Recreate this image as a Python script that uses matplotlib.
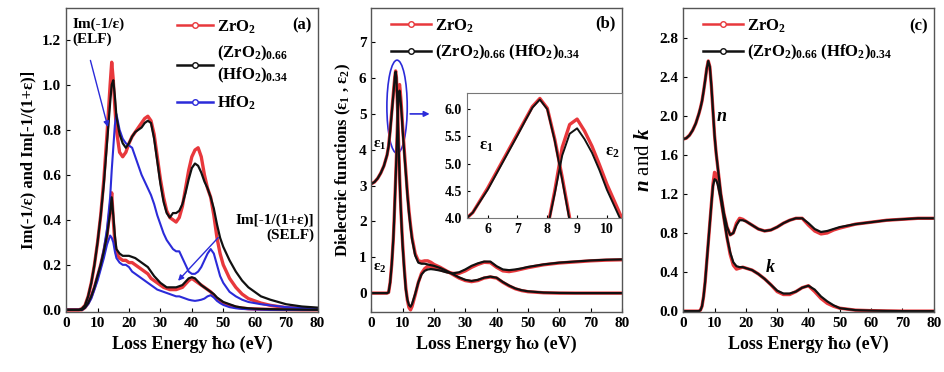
import numpy as np
import matplotlib.pyplot as plt
from matplotlib.patches import Ellipse

plt.rcParams["font.family"] = ["Liberation Serif", "DejaVu Serif"]
plt.rcParams["font.weight"] = "bold"
plt.rcParams["mathtext.fontset"] = "custom"
plt.rcParams["mathtext.rm"] = "Liberation Serif:bold"
plt.rcParams["mathtext.it"] = "Liberation Serif:italic:bold"
plt.rcParams["mathtext.bf"] = "Liberation Serif:bold"

RED = "#e8383c"
BLACK = "#111111"
BLUE = "#2b2bd9"

# ---- panel (a): energy loss functions ----
e_a = [0, 2, 4, 5, 6, 7, 8, 9, 10, 11, 12, 13, 14, 14.5, 15, 15.5, 16, 17, 18, 19,
       20, 21, 22, 23, 24, 25, 26, 27, 28, 29, 30, 31, 32, 33, 34, 35, 36, 37, 38, 39,
       40, 41, 42, 43, 44, 45, 46, 47, 48, 49, 50, 52, 54, 56, 58, 60, 62, 65, 70, 75, 80]
elf_zro2 = [0, 0, 0, 0.005, 0.02, 0.06, 0.12, 0.2, 0.3, 0.42, 0.58, 0.78, 1.0, 1.1, 1.02, 0.9, 0.8, 0.7, 0.68, 0.7,
            0.74, 0.77, 0.79, 0.81, 0.83, 0.85, 0.86, 0.84, 0.78, 0.68, 0.58, 0.5, 0.44, 0.41, 0.4, 0.39, 0.41, 0.46, 0.54, 0.62,
            0.68, 0.71, 0.72, 0.68, 0.6, 0.54, 0.5, 0.42, 0.32, 0.25, 0.2, 0.14, 0.1, 0.07, 0.05, 0.04, 0.03, 0.02, 0.01, 0.007, 0.005]
elf_mix = [0, 0, 0, 0.005, 0.02, 0.06, 0.12, 0.2, 0.3, 0.42, 0.56, 0.74, 0.92, 1.0, 1.02, 0.95, 0.86, 0.78, 0.74, 0.72,
           0.74, 0.77, 0.79, 0.8, 0.81, 0.83, 0.84, 0.83, 0.76, 0.66, 0.56, 0.48, 0.43, 0.41, 0.43, 0.43, 0.44, 0.47, 0.52, 0.58,
           0.63, 0.65, 0.64, 0.61, 0.57, 0.54, 0.5, 0.45, 0.38, 0.32, 0.28, 0.22, 0.17, 0.13, 0.1, 0.08, 0.06, 0.045, 0.025, 0.015, 0.01]
elf_hfo2 = [0, 0, 0, 0, 0.01, 0.03, 0.06, 0.1, 0.15, 0.2, 0.27, 0.36, 0.5, 0.62, 0.72, 0.82, 0.87, 0.8, 0.76, 0.74,
            0.73, 0.72, 0.68, 0.64, 0.6, 0.57, 0.54, 0.51, 0.47, 0.42, 0.38, 0.34, 0.31, 0.29, 0.27, 0.26, 0.26, 0.23, 0.2, 0.17,
            0.16, 0.16, 0.17, 0.19, 0.22, 0.25, 0.27, 0.25, 0.2, 0.15, 0.12, 0.08, 0.06, 0.045, 0.035, 0.03, 0.025, 0.02, 0.012, 0.008, 0.005]
self_zro2 = [0, 0, 0, 0, 0.01, 0.03, 0.06, 0.1, 0.15, 0.2, 0.26, 0.33, 0.45, 0.52, 0.4, 0.3, 0.25, 0.23, 0.22, 0.22,
             0.21, 0.21, 0.2, 0.19, 0.18, 0.17, 0.16, 0.14, 0.13, 0.12, 0.11, 0.1, 0.095, 0.09, 0.09, 0.09, 0.095, 0.1, 0.115, 0.13,
             0.14, 0.13, 0.12, 0.11, 0.1, 0.09, 0.08, 0.065, 0.05, 0.04, 0.03, 0.02, 0.012, 0.008, 0.005, 0.004, 0.003, 0.002, 0.001, 0, 0]
self_mix = [0, 0, 0, 0, 0.01, 0.03, 0.06, 0.1, 0.15, 0.2, 0.26, 0.33, 0.43, 0.5, 0.42, 0.33, 0.27, 0.25, 0.24, 0.24,
            0.24, 0.235, 0.23, 0.22, 0.21, 0.2, 0.19, 0.17, 0.15, 0.135, 0.12, 0.11, 0.1, 0.1, 0.1, 0.1, 0.105, 0.11, 0.125, 0.14,
            0.145, 0.14, 0.125, 0.11, 0.1, 0.09, 0.08, 0.07, 0.055, 0.045, 0.035, 0.025, 0.015, 0.01, 0.007, 0.005, 0.004, 0.003, 0.002, 0.001, 0]
self_hfo2 = [0, 0, 0, 0, 0.01, 0.025, 0.05, 0.09, 0.13, 0.18, 0.23, 0.29, 0.33, 0.32, 0.3, 0.26, 0.23, 0.21, 0.2, 0.2,
             0.19, 0.17, 0.16, 0.15, 0.14, 0.13, 0.12, 0.11, 0.1, 0.09, 0.085, 0.08, 0.075, 0.07, 0.065, 0.06, 0.06, 0.055, 0.05, 0.045,
             0.042, 0.04, 0.042, 0.045, 0.05, 0.06, 0.065, 0.055, 0.04, 0.03, 0.022, 0.012, 0.007, 0.004, 0.003, 0.002, 0.001, 0, 0, 0, 0]

# ---- panel (b): dielectric functions ----
e_b = [0, 1, 2, 3, 4, 5, 5.5, 6, 6.5, 7, 7.25, 7.5, 7.75, 8, 8.25, 8.5, 8.75, 9, 9.25, 9.5, 9.75, 10,
       10.5, 11, 11.5, 12, 12.5, 13, 14, 15, 16, 17, 18, 19, 20, 22, 24, 26, 28, 30, 32, 34, 36, 38,
       40, 42, 44, 46, 48, 50, 55, 60, 65, 70, 75, 80]
eps1_zro2 = [3.05, 3.1, 3.2, 3.35, 3.55, 3.85, 4.1, 4.55, 5.05, 5.55, 5.8, 6.05, 6.2, 6.02, 5.45, 4.75, 4.0, 3.3, 2.7, 2.2, 1.75, 1.35,
             0.7, 0.15, -0.2, -0.4, -0.47, -0.37, -0.05, 0.3, 0.55, 0.68, 0.75, 0.74, 0.7, 0.65, 0.6, 0.55, 0.55, 0.62, 0.72, 0.8, 0.86, 0.85,
             0.72, 0.62, 0.6, 0.63, 0.67, 0.71, 0.79, 0.84, 0.87, 0.9, 0.92, 0.93]
eps1_mix = [3.05, 3.1, 3.2, 3.35, 3.55, 3.85, 4.1, 4.52, 5.02, 5.52, 5.78, 6.03, 6.18, 6.0, 5.42, 4.7, 3.95, 3.25, 2.65, 2.15, 1.7, 1.3,
            0.65, 0.1, -0.18, -0.33, -0.38, -0.3, -0.02, 0.3, 0.52, 0.62, 0.66, 0.67, 0.66, 0.63, 0.58, 0.55, 0.58, 0.66, 0.76, 0.83, 0.88, 0.88,
            0.75, 0.66, 0.64, 0.66, 0.69, 0.73, 0.8, 0.85, 0.88, 0.91, 0.93, 0.94]
eps2_zro2 = [0, 0, 0, 0, 0, 0, 0.02, 0.3, 0.8, 1.5, 2.0, 2.6, 3.2, 3.8, 4.5, 5.3, 5.72, 5.82, 5.6, 5.32, 4.98, 4.62,
             4.0, 3.4, 2.8, 2.3, 1.9, 1.55, 1.1, 0.9, 0.88, 0.9, 0.9, 0.86, 0.8, 0.72, 0.62, 0.52, 0.42, 0.35, 0.32, 0.35, 0.42, 0.45,
             0.42, 0.3, 0.2, 0.12, 0.07, 0.04, 0.01, 0, 0, 0, 0, 0]
eps2_mix = [0, 0, 0, 0, 0, 0, 0.02, 0.3, 0.8, 1.5, 2.0, 2.6, 3.2, 3.8, 4.45, 5.15, 5.55, 5.65, 5.45, 5.2, 4.88, 4.52,
            3.92, 3.35, 2.75, 2.25, 1.85, 1.5, 1.05, 0.85, 0.82, 0.82, 0.8, 0.78, 0.76, 0.7, 0.62, 0.53, 0.44, 0.37, 0.34, 0.37, 0.43, 0.46,
            0.43, 0.31, 0.21, 0.13, 0.08, 0.05, 0.015, 0.005, 0, 0, 0, 0]

# ---- panel (c): refractive index n and extinction k ----
e_c = [0, 1, 2, 3, 4, 5, 5.5, 6, 6.5, 7, 7.5, 8, 8.5, 9, 9.5, 10, 10.5, 11, 12, 13, 14, 15, 16, 17, 18, 19,
       20, 22, 24, 26, 28, 30, 32, 34, 36, 38, 40, 42, 44, 46, 48, 50, 55, 60, 65, 70, 75, 80]
n_zro2 = [1.76, 1.77, 1.8, 1.85, 1.92, 2.02, 2.08, 2.15, 2.25, 2.36, 2.48, 2.56, 2.5, 2.3, 2.05, 1.8, 1.62, 1.48, 1.2, 1.0, 0.86, 0.78, 0.8, 0.9, 0.95, 0.94,
          0.92, 0.88, 0.84, 0.82, 0.83, 0.86, 0.9, 0.93, 0.95, 0.95, 0.88, 0.82, 0.79, 0.8, 0.83, 0.85, 0.89, 0.91, 0.93, 0.94, 0.95, 0.95]
n_mix = [1.76, 1.77, 1.8, 1.85, 1.92, 2.02, 2.08, 2.15, 2.25, 2.36, 2.48, 2.56, 2.5, 2.3, 2.05, 1.8, 1.62, 1.48, 1.2, 1.0, 0.86, 0.78, 0.8, 0.88, 0.93, 0.93,
         0.92, 0.88, 0.84, 0.82, 0.83, 0.86, 0.9, 0.93, 0.95, 0.95, 0.9, 0.84, 0.81, 0.82, 0.84, 0.86, 0.89, 0.91, 0.93, 0.94, 0.95, 0.95]
k_zro2 = [0, 0, 0, 0, 0, 0, 0.01, 0.05, 0.15, 0.3, 0.5, 0.7, 0.9, 1.1, 1.3, 1.42, 1.4, 1.33, 1.15, 0.95, 0.75, 0.58, 0.47, 0.43, 0.44, 0.45,
          0.44, 0.42, 0.38, 0.33, 0.27, 0.2, 0.17, 0.17, 0.2, 0.24, 0.26, 0.2, 0.13, 0.08, 0.05, 0.03, 0.01, 0.005, 0.002, 0, 0, 0]
k_mix = [0, 0, 0, 0, 0, 0, 0.01, 0.05, 0.15, 0.3, 0.5, 0.7, 0.9, 1.1, 1.28, 1.35, 1.34, 1.3, 1.15, 0.95, 0.75, 0.6, 0.5, 0.46, 0.45, 0.45,
         0.44, 0.42, 0.38, 0.33, 0.27, 0.21, 0.18, 0.18, 0.2, 0.24, 0.26, 0.22, 0.15, 0.1, 0.06, 0.03, 0.01, 0.005, 0.002, 0, 0, 0]

ZRO2 = "ZrO$_2$"
MIX2 = "(ZrO$_2$)$_{0.66}$\n(HfO$_2$)$_{0.34}$"
MIX1 = "(ZrO$_2$)$_{0.66}$ (HfO$_2$)$_{0.34}$"


def style_axis(ax):
    ax.set_xlim(0, 80)
    ax.set_xticks(range(0, 81, 10))
    ax.tick_params(direction="in", labelsize=11, length=3)
    for s in ax.spines.values():
        s.set_color("#555555")
        s.set_linewidth(1.0)
    ax.set_xlabel("Loss Energy ħω (eV)", fontsize=13, fontweight="bold")


def handle(color):
    return plt.Line2D([], [], color=color, lw=1.8, marker="o", ms=4, mfc="white", mec=color)


fig = plt.figure(figsize=(9.45, 3.72), dpi=100)
ax_a = fig.add_axes([0.070, 0.161, 0.266, 0.817])
ax_b = fig.add_axes([0.393, 0.161, 0.265, 0.817])
ax_c = fig.add_axes([0.723, 0.161, 0.265, 0.817])

# (a)
ax_a.plot(e_a, elf_zro2, color=RED, lw=2.4)
ax_a.plot(e_a, self_zro2, color=RED, lw=2.4)
ax_a.plot(e_a, elf_hfo2, color=BLUE, lw=1.5)
ax_a.plot(e_a, self_hfo2, color=BLUE, lw=1.5)
ax_a.plot(e_a, elf_mix, color=BLACK, lw=1.6)
ax_a.plot(e_a, self_mix, color=BLACK, lw=1.6)
style_axis(ax_a)
ax_a.set_ylim(-0.01, 1.34)
ax_a.set_yticks(np.arange(0, 1.21, 0.2))
ax_a.set_yticklabels([f"{v:.1f}" for v in np.arange(0, 1.21, 0.2)])
ax_a.set_ylabel("Im(-1/ε) and Im[-1/(1+ε)]", fontsize=12, fontweight="bold")
ax_a.text(2, 1.3, "Im(-1/ε)\n(ELF)", fontsize=11, fontweight="bold", va="top")
ax_a.annotate("", xy=(13.5, 0.8), xytext=(7.5, 1.12),
              arrowprops=dict(arrowstyle="-|>", color=BLUE, lw=1.0, mutation_scale=8))
ax_a.text(79, 0.43, "Im[-1/(1+ε)]\n(SELF)", fontsize=11, fontweight="bold", va="top", ha="right",
          multialignment="right")
ax_a.annotate("", xy=(35, 0.12), xytext=(49, 0.33),
              arrowprops=dict(arrowstyle="-|>", color=BLUE, lw=1.0, mutation_scale=8))
ax_a.text(78, 1.3, "(a)", fontsize=12, fontweight="bold", va="top", ha="right")
ax_a.legend([handle(RED), handle(BLACK), handle(BLUE)], [ZRO2, MIX2, "HfO$_2$"],
            loc="upper left", bbox_to_anchor=(0.4, 1.0), frameon=False, fontsize=12,
            handlelength=2.2, handletextpad=0.2, labelspacing=0.5, borderaxespad=0.2)

# (b)
for y in (eps1_zro2, eps2_zro2):
    ax_b.plot(e_b, y, color=RED, lw=2.4)
for y in (eps1_mix, eps2_mix):
    ax_b.plot(e_b, y, color=BLACK, lw=1.6)
style_axis(ax_b)
ax_b.set_ylim(-0.53, 7.95)
ax_b.set_yticks(range(0, 8))
ax_b.set_ylabel("Dielectric functions (ε$_1$ , ε$_2$)", fontsize=12, fontweight="bold")
ax_b.text(0.5, 4.05, "ε$_1$", fontsize=11, fontweight="bold")
ax_b.text(0.5, 0.62, "ε$_2$", fontsize=11, fontweight="bold")
ax_b.text(78, 7.75, "(b)", fontsize=12, fontweight="bold", va="top", ha="right")
ax_b.add_patch(Ellipse((8.2, 5.2), 6.5, 2.6, fill=False, ec=BLUE, lw=1.2))
ax_b.annotate("", xy=(19.5, 5.0), xytext=(11.5, 5.0),
              arrowprops=dict(arrowstyle="-|>", color=BLUE, lw=1.2, mutation_scale=8))
ax_b.legend([handle(RED), handle(BLACK)], [ZRO2, MIX1],
            loc="upper left", bbox_to_anchor=(0.02, 1.02), frameon=False, fontsize=12,
            handlelength=2.4, handletextpad=0.2, labelspacing=0.5)

ins = fig.add_axes([0.494, 0.414, 0.164, 0.336])
ins.plot(e_b, eps1_zro2, color=RED, lw=2.4)
ins.plot(e_b, eps2_zro2, color=RED, lw=2.4)
ins.plot(e_b, eps1_mix, color=BLACK, lw=1.4)
ins.plot(e_b, eps2_mix, color=BLACK, lw=1.4)
ins.set_xlim(5.3, 10.5)
ins.set_ylim(4.0, 6.3)
ins.set_xticks([6, 7, 8, 9, 10])
ins.set_yticks([4.0, 4.5, 5.0, 5.5, 6.0])
ins.tick_params(direction="in", labelsize=10, length=2)
for s in ins.spines.values():
    s.set_color("#777777")
ins.text(5.7, 5.25, "ε$_1$", fontsize=12, fontweight="bold")
ins.text(9.95, 5.15, "ε$_2$", fontsize=12, fontweight="bold")

# (c)
ax_c.plot(e_c, n_zro2, color=RED, lw=2.4)
ax_c.plot(e_c, k_zro2, color=RED, lw=2.4)
ax_c.plot(e_c, n_mix, color=BLACK, lw=1.6)
ax_c.plot(e_c, k_mix, color=BLACK, lw=1.6)
style_axis(ax_c)
ax_c.set_ylim(-0.01, 3.1)
ax_c.set_yticks(np.arange(0, 2.81, 0.4))
ax_c.set_yticklabels([f"{v:.1f}" for v in np.arange(0, 2.81, 0.4)])
ax_c.set_ylabel("$n$ and $k$", fontsize=15)
ax_c.text(10.5, 1.95, "$n$", fontsize=13)
ax_c.text(26, 0.4, "$k$", fontsize=13)
ax_c.text(78, 3.0, "(c)", fontsize=12, fontweight="bold", va="top", ha="right")
ax_c.legend([handle(RED), handle(BLACK)], [ZRO2, MIX1],
            loc="upper left", bbox_to_anchor=(0.02, 1.02), frameon=False, fontsize=12,
            handlelength=2.4, handletextpad=0.2, labelspacing=0.5)

fig.savefig("out.png", dpi=100)
